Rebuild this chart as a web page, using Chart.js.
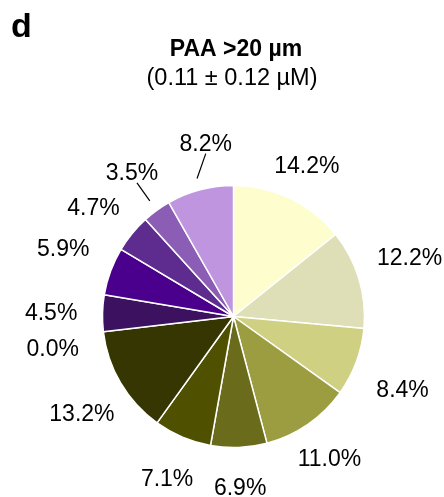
<!DOCTYPE html>
<html>
<head>
<meta charset="utf-8">
<script src="https://cdn.jsdelivr.net/npm/chart.js@4/dist/chart.umd.min.js"></script>
<style>
  html, body { margin: 0; padding: 0; background: #fff; }
  #caixa { width: 444px; height: 497px; position: relative; }
</style>
</head>
<body>
<div id="caixa"><canvas id="grafico_pizza"></canvas></div>
<script>
// dados (sentido horario a partir do topo)
var categorias = ['F1', 'F2', 'F3', 'F4', 'F5', 'F6', 'F7', 'F8', 'F9', 'F10', 'F11', 'F12', 'F13'];
var percentuais = [14.2, 12.2, 8.4, 11.0, 6.9, 7.1, 13.2, 0.0, 4.5, 5.9, 4.7, 3.5, 8.2];
var cores = ['#fdfdce', '#dedfb6', '#cfd081', '#9c9d40', '#6a6b1b', '#4f5100', '#353602',
             '#2a0a48', '#3c1160', '#4a008c', '#5e2b8e', '#8b5db5', '#bf95e0'];

var titulo = 'PAA >20 µm';
var subtitulo = '(0.11 ± 0.12 µM)';
var painel = 'd';

// ajuste fino dos rotulos: [dx, dy, linha?, dxLinha]
var ajustes = [[-2, 6], [-2.5, -5.5], [0, 10], [-5, -5], [0, 9], [0, 4], [8, 3],
               [-2, 10.5], [-3, 0], [-1, -6], [-2, 4], [1, -3, true, 5], [15, -12, true, 0]];

var fonte = '"Liberation Sans", Arial, sans-serif';

var rotulosPizza = {
  id: 'rotulosPizza',
  afterDraw: function(chart) {
    var ctx = chart.ctx;
    var arcos = chart.getDatasetMeta(0).data;
    ctx.save();
    ctx.fillStyle = '#000';
    ctx.strokeStyle = '#000';
    ctx.textBaseline = 'alphabetic';

    ctx.textAlign = 'left';
    ctx.font = 'bold 34px ' + fonte;
    ctx.fillText(painel, 11, 37);

    ctx.textAlign = 'center';
    ctx.font = 'bold 23px ' + fonte;
    ctx.fillText(titulo, 236, 56);
    ctx.font = '23.5px ' + fonte;
    ctx.fillText(subtitulo, 232, 85);

    ctx.font = '23px ' + fonte;
    arcos.forEach(function(arco, i) {
      var p = arco.getProps(['x', 'y', 'startAngle', 'endAngle', 'outerRadius'], true);
      var meio = (p.startAngle + p.endAngle) / 2;
      var sx = Math.cos(meio), sy = Math.sin(meio);
      var texto = percentuais[i].toFixed(1) + '%';
      var w = ctx.measureText(texto).width;
      var d = p.outerRadius + 22 + w / 2 * Math.abs(sx) + 8 * Math.abs(sy);
      var aj = ajustes[i];
      var x = p.x + d * sx + aj[0];
      var y = p.y + d * sy + aj[1];
      if (aj[2]) {
        ctx.lineWidth = 1.2;
        ctx.beginPath();
        ctx.moveTo(p.x + p.outerRadius * 1.09 * sx, p.y + p.outerRadius * 1.09 * sy);
        ctx.lineTo(x + aj[3], y + 11);
        ctx.stroke();
      }
      ctx.fillText(texto, x, y + 8);
    });
    ctx.restore();
  }
};

new Chart(document.getElementById('grafico_pizza'), {
  type: 'pie',
  data: {
    labels: categorias,
    datasets: [{
      data: percentuais,
      backgroundColor: cores,
      borderColor: '#ffffff',
      borderWidth: 1.5
    }]
  },
  options: {
    responsive: true,
    maintainAspectRatio: false,
    animation: false,
    radius: 131,
    layout: { padding: { left: 102.5, right: 79.5, top: 185.5, bottom: 49.5 } },
    plugins: {
      legend: { display: false },
      tooltip: { enabled: false },
      title: { display: false }
    }
  },
  plugins: [rotulosPizza]
});
</script>
</body>
</html>
